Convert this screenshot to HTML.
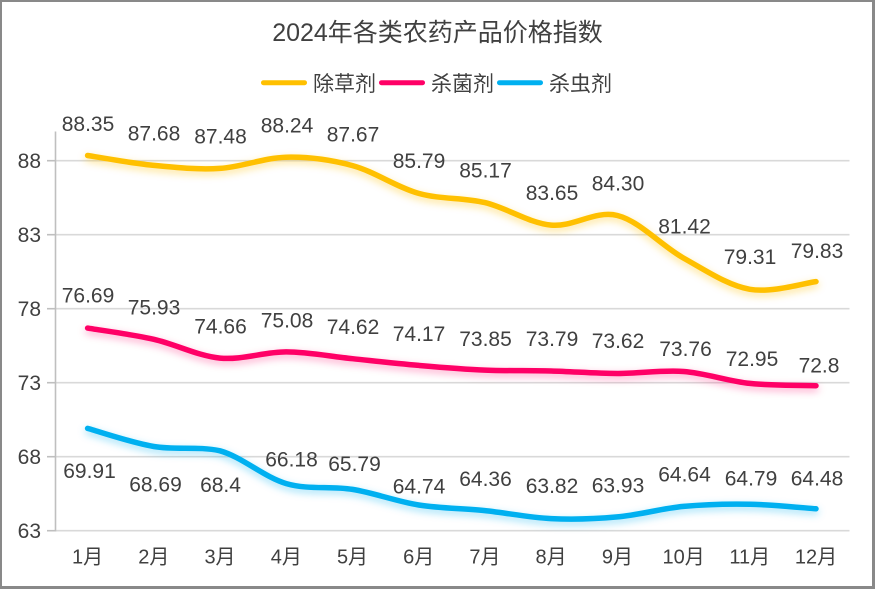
<!DOCTYPE html>
<html><head><meta charset="utf-8">
<style>
html,body{margin:0;padding:0;background:#fff;}
svg{display:block;}
text{font-family:"Liberation Sans","Noto Sans CJK SC",sans-serif;fill:#404040;}
</style></head>
<body>
<svg width="875" height="589" viewBox="0 0 875 589" xmlns="http://www.w3.org/2000/svg">
<defs>
<filter id="gy" filterUnits="userSpaceOnUse" x="0" y="0" width="875" height="589"><feDropShadow dx="0" dy="3" stdDeviation="4" flood-color="#FFC000" flood-opacity="0.45"/></filter>
<filter id="gp" filterUnits="userSpaceOnUse" x="0" y="0" width="875" height="589"><feDropShadow dx="0" dy="3" stdDeviation="4" flood-color="#FF0066" flood-opacity="0.35"/></filter>
<filter id="gb" filterUnits="userSpaceOnUse" x="0" y="0" width="875" height="589"><feDropShadow dx="0" dy="3" stdDeviation="4" flood-color="#00B0F0" flood-opacity="0.4"/></filter>
</defs>
<rect x="0" y="0" width="875" height="589" fill="#fff"/>
<!-- border -->
<rect x="0" y="0" width="875" height="2" fill="#898989"/>
<rect x="0" y="0" width="2" height="589" fill="#898989"/>
<rect x="872" y="0" width="3" height="589" fill="#898989"/>
<rect x="0" y="586" width="875" height="3" fill="#898989"/>

<!-- title -->
<text x="437.5" y="41" font-size="25" text-anchor="middle">2024年各类农药产品价格指数</text>

<!-- legend -->
<g stroke-width="5" stroke-linecap="round">
<line x1="263.5" y1="82.7" x2="304.5" y2="82.7" stroke="#FFC000"/>
<line x1="381.5" y1="82.7" x2="422.5" y2="82.7" stroke="#FF0066"/>
<line x1="499.5" y1="82.7" x2="540.5" y2="82.7" stroke="#00B0F0"/>
</g>
<text x="313" y="91" font-size="21">除草剂</text>
<text x="431" y="91" font-size="21">杀菌剂</text>
<text x="549" y="91" font-size="21">杀虫剂</text>

<!-- gridlines -->
<g stroke="#d9d9d9" stroke-width="1.6">
<line x1="55" y1="160.7" x2="849.5" y2="160.7"/>
<line x1="55" y1="234.7" x2="849.5" y2="234.7"/>
<line x1="55" y1="308.7" x2="849.5" y2="308.7"/>
<line x1="55" y1="382.7" x2="849.5" y2="382.7"/>
<line x1="55" y1="456.7" x2="849.5" y2="456.7"/>
<line x1="55" y1="530.7" x2="849.5" y2="530.7"/>
</g>
<g stroke="#bfbfbf" stroke-width="1.6">
<line x1="55.5" y1="131.5" x2="55.5" y2="531.5"/>
<line x1="47" y1="160.7" x2="55" y2="160.7"/>
<line x1="47" y1="234.7" x2="55" y2="234.7"/>
<line x1="47" y1="308.7" x2="55" y2="308.7"/>
<line x1="47" y1="382.7" x2="55" y2="382.7"/>
<line x1="47" y1="456.7" x2="55" y2="456.7"/>
<line x1="47" y1="530.7" x2="55" y2="530.7"/>
</g>

<!-- y labels -->
<g font-size="21" text-anchor="end">
<text x="41" y="168.2">88</text>
<text x="41" y="242.2">83</text>
<text x="41" y="316.2">78</text>
<text x="41" y="390.2">73</text>
<text x="41" y="464.2">68</text>
<text x="41" y="538.2">63</text>
</g>

<!-- x labels -->
<g font-size="20" text-anchor="middle">
<text x="87.6" y="563.5">1月</text>
<text x="153.8" y="563.5">2月</text>
<text x="220.0" y="563.5">3月</text>
<text x="286.3" y="563.5">4月</text>
<text x="352.5" y="563.5">5月</text>
<text x="418.7" y="563.5">6月</text>
<text x="484.9" y="563.5">7月</text>
<text x="551.1" y="563.5">8月</text>
<text x="617.4" y="563.5">9月</text>
<text x="683.6" y="563.5">10月</text>
<text x="749.8" y="563.5">11月</text>
<text x="816.0" y="563.5">12月</text>
</g>

<!-- series -->
<g fill="none" stroke-width="5.5" stroke-linecap="round" stroke-linejoin="round">
<path filter="url(#gy)" stroke="#FFC000" d="M87.6,155.5 C98.6,157.2 131.7,163.3 153.8,165.4 C175.9,167.6 197.9,169.8 220.0,168.4 C242.1,167.0 264.2,157.7 286.3,157.2 C308.4,156.7 330.4,159.6 352.5,165.6 C374.6,171.6 396.6,187.2 418.7,193.4 C440.8,199.6 462.8,197.3 484.9,202.6 C507.0,207.9 529.0,223.0 551.1,225.1 C573.2,227.3 595.3,210.0 617.4,215.5 C639.5,221.0 661.5,245.8 683.6,258.1 C705.7,270.4 727.7,285.4 749.8,289.3 C771.9,293.2 805.0,282.9 816.0,281.6"/>
<path filter="url(#gp)" stroke="#FF0066" d="M87.6,328.1 C98.6,330.0 131.7,334.3 153.8,339.3 C175.9,344.3 197.9,356.0 220.0,358.1 C242.1,360.2 264.2,351.8 286.3,351.9 C308.4,352.0 330.4,356.5 352.5,358.7 C374.6,361.0 396.6,363.5 418.7,365.4 C440.8,367.3 462.8,369.2 484.9,370.1 C507.0,371.0 529.0,370.4 551.1,371.0 C573.2,371.6 595.3,373.4 617.4,373.5 C639.5,373.6 661.5,369.9 683.6,371.5 C705.7,373.2 727.7,381.0 749.8,383.4 C771.9,385.8 805.0,385.3 816.0,385.7"/>
<path filter="url(#gb)" stroke="#00B0F0" d="M87.6,428.4 C98.6,431.4 131.7,442.8 153.8,446.5 C175.9,450.2 197.9,446.0 220.0,450.8 C242.1,457.0 264.2,477.2 286.3,483.6 C308.4,490.0 330.4,485.8 352.5,489.4 C374.6,493.0 396.6,501.5 418.7,505.0 C440.8,508.5 462.8,508.3 484.9,510.6 C507.0,512.9 529.0,517.6 551.1,518.6 C573.2,519.7 595.3,518.9 617.4,516.9 C639.5,514.9 661.5,508.5 683.6,506.4 C705.7,504.3 727.7,503.8 749.8,504.2 C771.9,504.6 805.0,508.0 816.0,508.8"/>
</g>

<!-- data labels -->
<g font-size="21" text-anchor="middle">
<text x="88" y="131">88.35</text>
<text x="154" y="140.5">87.68</text>
<text x="220.5" y="143.5">87.48</text>
<text x="287" y="132.5">88.24</text>
<text x="353" y="141.5">87.67</text>
<text x="419" y="168.2">85.79</text>
<text x="485.5" y="177.5">85.17</text>
<text x="552" y="200">83.65</text>
<text x="618" y="190.5">84.30</text>
<text x="684.5" y="233.5">81.42</text>
<text x="750" y="264">79.31</text>
<text x="817" y="258">79.83</text>

<text x="88" y="302.5">76.69</text>
<text x="154" y="314.5">75.93</text>
<text x="220.5" y="333.5">74.66</text>
<text x="287" y="327.5">75.08</text>
<text x="353" y="334">74.62</text>
<text x="419" y="341">74.17</text>
<text x="485.5" y="346">73.85</text>
<text x="552" y="346">73.79</text>
<text x="618" y="348">73.62</text>
<text x="685.5" y="356">73.76</text>
<text x="752" y="366">72.95</text>
<text x="819" y="372.5">72.8</text>

<text x="89.5" y="478">69.91</text>
<text x="155.5" y="491.5">68.69</text>
<text x="220.5" y="492">68.4</text>
<text x="291.5" y="466.5">66.18</text>
<text x="354.5" y="471">65.79</text>
<text x="419" y="493.5">64.74</text>
<text x="485.5" y="486">64.36</text>
<text x="552" y="493">63.82</text>
<text x="618" y="492.5">63.93</text>
<text x="684.5" y="481.5">64.64</text>
<text x="751" y="485.5">64.79</text>
<text x="817" y="485.5">64.48</text>
</g>
</svg>
</body></html>
